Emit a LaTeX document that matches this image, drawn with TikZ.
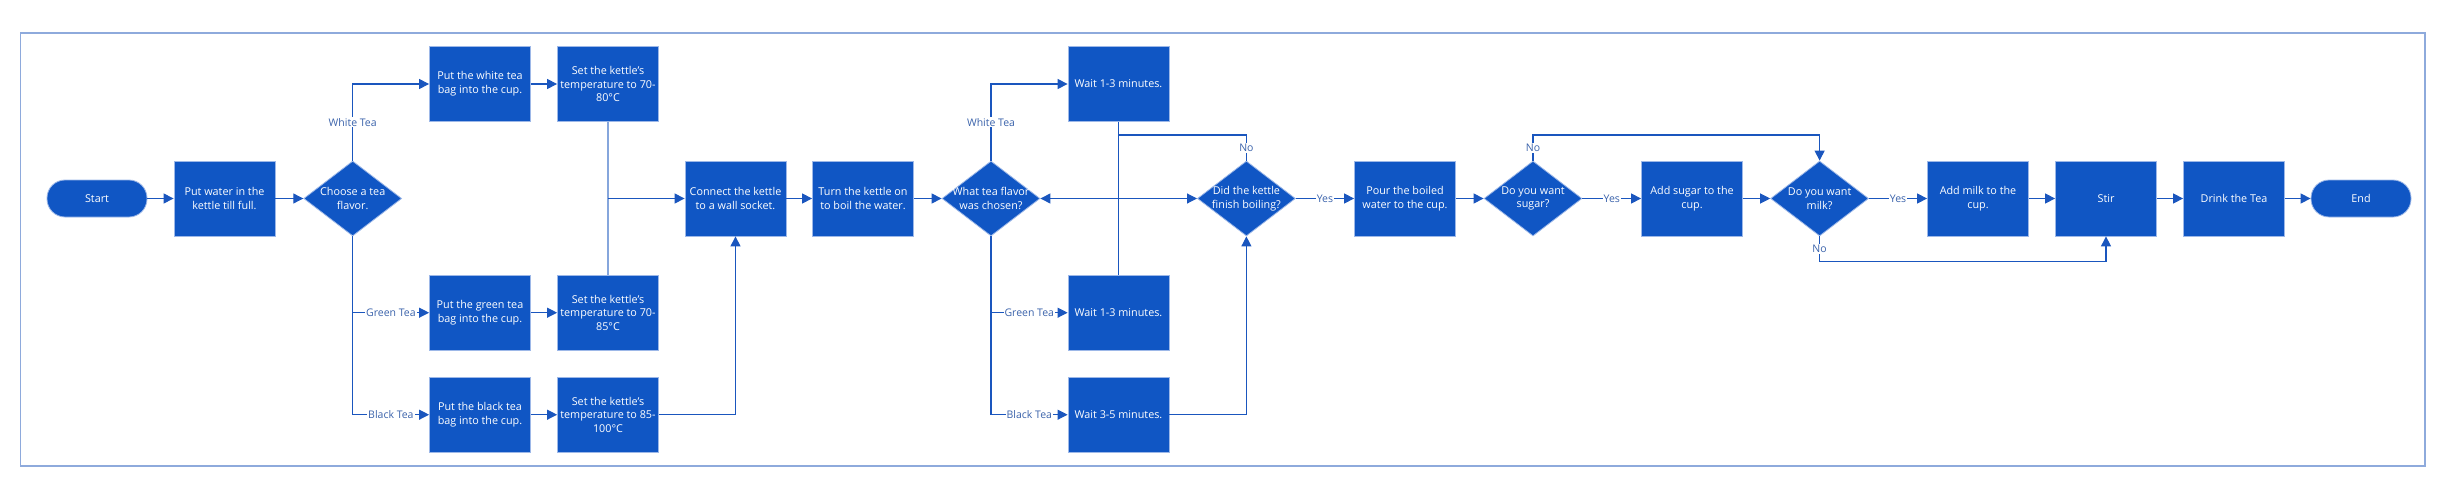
\documentclass[tikz,border=0pt]{standalone}
\usepackage{fontspec}
\setmainfont{Open Sans}
\usetikzlibrary{shapes.geometric,arrows.meta}
\definecolor{boxblue}{HTML}{1056C4}
\definecolor{boxedge}{HTML}{9DB8E8}
\definecolor{lineblue}{HTML}{1A56BE}
\definecolor{lightline}{HTML}{86A6DC}
\definecolor{lblblue}{HTML}{3B63AB}
\definecolor{frameblue}{HTML}{8EAADC}
\tikzset{
  base/.style={fill=boxblue, draw=boxedge, line width=0.8pt, text=white, align=flush center,
    font=\fontsize{10.8}{13.7}\selectfont, inner sep=0pt},
  stepbox/.style={base, rectangle, minimum width=101pt, minimum height=75pt, text width=99pt},
  pill/.style={base, rectangle, rounded corners=18pt, minimum width=100pt, minimum height=37pt},
  dia/.style={base, diamond, minimum width=98pt, minimum height=75pt, inner sep=0pt},
  diatext/.style={text=white, align=center, font=\fontsize{10.8}{13.7}\selectfont},
  conn/.style={draw=lineblue, line width=1.1pt},
  arr/.style={conn, -{Triangle[length=10pt,width=10pt]}},
  lbl/.style={fill=white, text=lblblue, inner sep=1pt, font=\fontsize{10.5}{12}\selectfont}
}
\begin{document}
\begin{tikzpicture}[x=1pt,y=-1pt]
\useasboundingbox (0,0) rectangle (2452,500);
\draw[frameblue, line width=1.5pt] (20.5,33) rectangle (2425,466);

% nodes
\node[pill] (start) at (97,198.5) {Start};
\node[stepbox] (water) at (224.5,198.5) {Put water in the\\kettle till full.};
\node[dia, label={[diatext]center:Choose a tea\\flavor.}] (choose) at (352.7,198.5) {};
\node[stepbox] (whitebag) at (480,84) {Put the white tea\\bag into the cup.};
\node[stepbox] (whiteset) at (608,84) {Set the kettle's\\temperature to 70-\\80°C};
\node[stepbox] (greenbag) at (480,312.7) {Put the green tea\\bag into the cup.};
\node[stepbox] (greenset) at (608,312.7) {Set the kettle's\\temperature to 70-\\85°C};
\node[stepbox] (blackbag) at (480,414.7) {Put the black tea\\bag into the cup.};
\node[stepbox] (blackset) at (608,414.7) {Set the kettle's\\temperature to 85-\\100°C};
\node[stepbox] (connect) at (735.5,198.5) {Connect the kettle\\to a wall socket.};
\node[stepbox] (turn) at (863,198.5) {Turn the kettle on\\to boil the water.};
\node[dia, label={[diatext]center:What tea flavor\\was chosen?}] (what) at (991,198.5) {};
\node[stepbox] (wait1) at (1118.5,84) {Wait 1-3 minutes.};
\node[stepbox] (wait2) at (1118.5,312.7) {Wait 1-3 minutes.};
\node[stepbox] (wait3) at (1118.5,414.7) {Wait 3-5 minutes.};
\node[dia, label={[diatext]center:Did the kettle\\finish boiling?}] (did) at (1246.4,198.5) {};
\node[stepbox] (pour) at (1405,198.5) {Pour the boiled\\water to the cup.};
\node[dia, label={[diatext]center:Do you want\\sugar?}] (sugar) at (1533,198.5) {};
\node[stepbox] (addsugar) at (1692,198.5) {Add sugar to the\\cup.};
\node[dia, label={[diatext]center:Do you want\\milk?}] (milk) at (1819.6,198.5) {};
\node[stepbox] (addmilk) at (1978,198.5) {Add milk to the\\cup.};
\node[stepbox] (stir) at (2106,198.5) {Stir};
\node[stepbox] (drink) at (2234,198.5) {Drink the Tea};
\node[pill] (end) at (2361,198.5) {End};

% junctions
\coordinate (j1) at (608,198.5);
\coordinate (j2) at (1118.5,198.5);
\coordinate (dn) at (1246.4,135);
\coordinate (dnc) at (1118.5,135);
\coordinate (sn1) at (1533,135);
\coordinate (sn2) at (1819.6,135);
\coordinate (mn1) at (1819.6,261.7);
\coordinate (mn2) at (2106,261.7);

% connectors
\draw[arr] (start) -- (water);
\draw[arr] (water) -- (choose);
\draw[arr] (choose.north) |- node[lbl, pos=0.25] {White Tea} (whitebag.west);
\draw[arr] (choose.south) |- node[lbl, pos=0.75] {Green Tea} (greenbag.west);
\draw[arr] (choose.south) |- node[lbl, pos=0.75] {Black Tea} (blackbag.west);
\draw[arr] (whitebag) -- (whiteset);
\draw[arr] (greenbag) -- (greenset);
\draw[arr] (blackbag) -- (blackset);
\draw[conn, draw=lightline] (whiteset.south) -- (greenset.north);
\draw[arr] (j1) -- (connect.west);
\draw[arr] (blackset.east) -| (connect.south);
\draw[arr] (connect) -- (turn);
\draw[arr] (turn) -- (what);
\draw[arr] (what.north) |- node[lbl, pos=0.25] {White Tea} (wait1.west);
\draw[arr] (what.south) |- node[lbl, pos=0.75] {Green Tea} (wait2.west);
\draw[arr] (what.south) |- node[lbl, pos=0.75] {Black Tea} (wait3.west);
\draw[conn] (wait1.south) -- (wait2.north);
\draw[arr] (j2) -- (did.west);
\draw[arr] (did.north) -- node[lbl] {No} (dn) -- (dnc) -- (j2) -- (what.east);
\draw[arr] (wait3.east) -| (did.south);
\draw[arr] (did.east) -- node[lbl] {Yes} (pour.west);
\draw[arr] (pour) -- (sugar);
\draw[arr] (sugar.east) -- node[lbl] {Yes} (addsugar.west);
\draw[arr] (sugar.north) -- node[lbl] {No} (sn1) -- (sn2) -- (milk.north);
\draw[arr] (addsugar) -- (milk);
\draw[arr] (milk.east) -- node[lbl] {Yes} (addmilk.west);
\draw[arr] (milk.south) -- node[lbl] {No} (mn1) -- (mn2) -- (stir.south);
\draw[arr] (addmilk) -- (stir);
\draw[arr] (stir) -- (drink);
\draw[arr] (drink) -- (end);
\end{tikzpicture}
\end{document}
